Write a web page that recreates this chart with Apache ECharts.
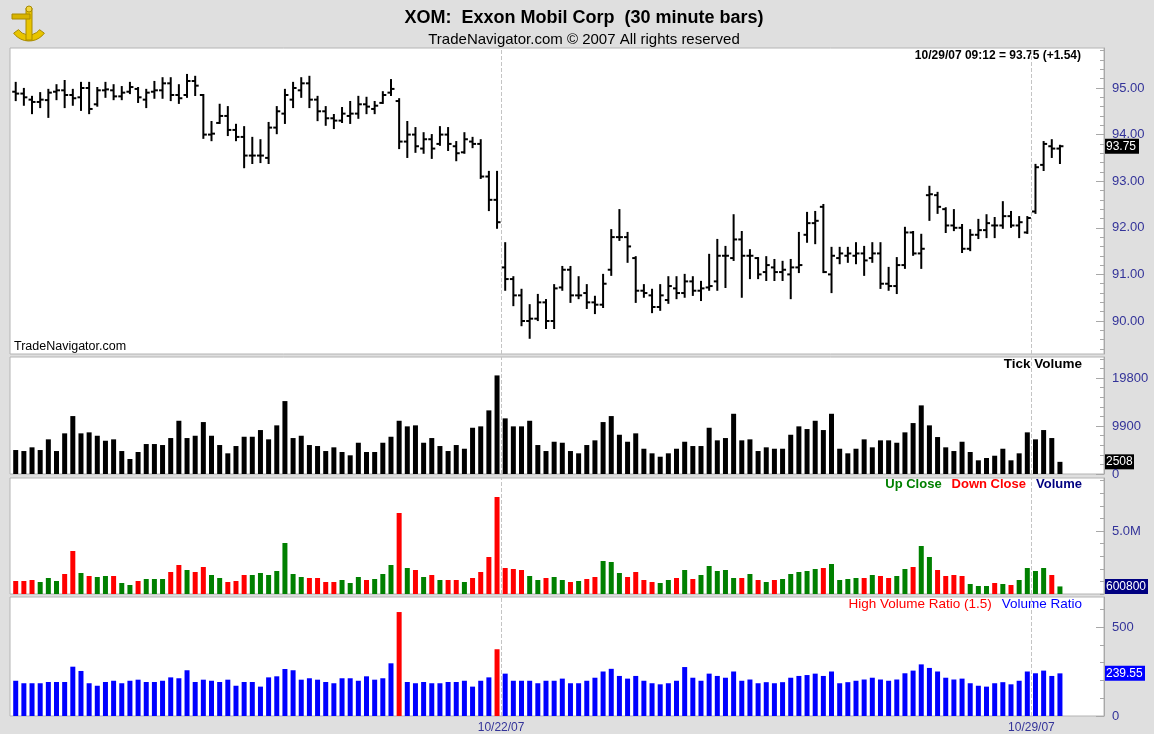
<!DOCTYPE html>
<html>
<head>
<meta charset="utf-8">
<title>XOM 30 minute bars</title>
<script src="https://cdn.jsdelivr.net/npm/echarts@6.0.0/dist/echarts.min.js"></script>
<style>
    html, body { margin: 0; padding: 0; background: #dfdfdf; }
    #chart { width: 1154px; height: 734px; }
</style>
</head>
<body>
<div id="chart"></div>
<script>
// 30 分钟 K 线 (OHLC)，按 bar 序号排列
const opens = [
    94.92, 94.88, 94.75, 94.70, 94.74, 94.92, 94.95, 94.85, 94.80, 95.00,
    94.65, 94.95, 94.95, 94.82, 94.92, 94.98, 94.75, 94.92, 94.95, 95.10,
    94.85, 94.85, 95.15, 94.85, 94.00, 94.25, 94.40, 94.10, 93.95, 93.55,
    93.55, 93.50, 94.15, 94.45, 94.75, 94.95, 95.10, 94.75, 94.50, 94.35,
    94.30, 94.40, 94.45, 94.65, 94.55, 94.68, 94.90, 94.72, 93.85, 94.00,
    93.70, 93.90, 93.80, 94.00, 93.75, 93.62, 93.85, 93.80, 93.10, 92.60,
    91.15, 90.90, 90.55, 90.00, 90.05, 90.40, 90.00, 90.72, 91.10, 90.55,
    90.60, 90.40, 90.35, 91.10, 91.80, 91.80, 91.35, 90.65, 90.55, 90.30,
    90.45, 90.70, 90.60, 90.85, 90.65, 90.72, 90.85, 91.40, 91.35, 91.75,
    91.40, 91.35, 91.05, 91.15, 91.05, 91.00, 91.15, 91.85, 92.10, 92.45,
    91.00, 91.35, 91.40, 91.40, 91.45, 91.35, 91.45, 90.80, 90.75, 91.20,
    91.90, 91.45, 92.70, 92.70, 92.40, 92.05, 92.00, 91.55, 91.85, 91.95,
    92.05, 92.05, 92.25, 92.05, 91.90, 92.35, 93.35, 93.75, 93.70
]
const highs = [
    95.11, 94.98, 94.81, 94.89, 94.96, 95.06, 95.15, 94.96, 95.11, 95.11,
    95.00, 95.11, 95.06, 95.02, 95.11, 95.00, 94.96, 95.13, 95.21, 95.21,
    95.06, 95.28, 95.24, 94.85, 94.27, 94.64, 94.59, 94.21, 94.16, 93.93,
    93.88, 94.25, 94.59, 94.96, 95.11, 95.21, 95.24, 94.81, 94.59, 94.42,
    94.57, 94.70, 94.81, 94.79, 94.70, 94.91, 95.17, 94.76, 94.27, 94.14,
    94.03, 93.99, 94.16, 94.14, 93.84, 94.03, 93.93, 93.88, 93.20, 93.20,
    91.67, 90.94, 90.67, 90.34, 90.56, 90.45, 90.77, 91.16, 91.16, 90.94,
    90.77, 90.52, 90.99, 91.95, 92.38, 91.89, 91.37, 90.77, 90.67, 90.77,
    90.94, 90.94, 90.99, 90.94, 90.84, 91.42, 91.74, 91.59, 92.27, 91.91,
    91.52, 91.35, 91.37, 91.31, 91.27, 91.31, 91.89, 92.32, 92.34, 92.49,
    91.57, 91.57, 91.57, 91.67, 91.59, 91.67, 91.67, 91.14, 91.35, 92.00,
    91.91, 91.85, 92.88, 92.75, 92.42, 92.38, 92.06, 91.95, 92.17, 92.27,
    92.21, 92.55, 92.34, 92.23, 92.23, 93.35, 93.84, 93.88, 93.76
]
const lows = [
    94.74, 94.64, 94.46, 94.59, 94.38, 94.76, 94.59, 94.64, 94.53, 94.46,
    94.62, 94.81, 94.76, 94.76, 94.89, 94.70, 94.59, 94.79, 94.79, 94.74,
    94.68, 94.81, 94.85, 93.93, 93.88, 94.25, 93.99, 93.88, 93.30, 93.39,
    93.41, 93.39, 94.03, 94.25, 94.59, 94.81, 94.59, 94.31, 94.21, 94.14,
    94.27, 94.25, 94.36, 94.46, 94.46, 94.68, 94.85, 93.71, 93.52, 93.63,
    93.61, 93.50, 93.78, 93.67, 93.45, 93.61, 93.73, 93.07, 92.38, 92.00,
    90.67, 90.34, 89.91, 89.64, 90.02, 89.85, 89.85, 90.67, 90.41, 90.49,
    90.28, 90.17, 90.30, 90.99, 91.74, 91.27, 90.41, 90.52, 90.19, 90.24,
    90.39, 90.49, 90.52, 90.56, 90.45, 90.67, 90.67, 90.73, 91.31, 90.52,
    90.92, 90.92, 90.88, 90.88, 90.88, 90.49, 91.05, 91.70, 91.67, 91.05,
    90.62, 91.24, 91.27, 91.24, 90.99, 91.27, 90.71, 90.67, 90.60, 91.14,
    91.42, 91.14, 92.17, 92.32, 91.91, 91.95, 91.48, 91.52, 91.78, 91.80,
    91.80, 92.00, 92.02, 91.80, 91.89, 92.32, 93.24, 93.52, 93.39
]
const closes = [
    94.88, 94.80, 94.70, 94.75, 94.90, 94.95, 94.85, 94.78, 95.00, 94.55,
    94.95, 94.97, 94.82, 94.90, 95.02, 94.80, 94.90, 94.95, 95.10, 94.85,
    94.78, 95.15, 95.05, 94.00, 94.02, 94.40, 94.10, 93.95, 93.55, 93.55,
    93.55, 94.15, 94.50, 94.85, 95.00, 95.10, 94.75, 94.50, 94.35, 94.30,
    94.45, 94.45, 94.65, 94.60, 94.62, 94.85, 94.98, 93.85, 94.00, 93.75,
    93.90, 93.70, 94.00, 93.80, 93.60, 93.90, 93.80, 93.10, 92.60, 92.12,
    90.90, 90.55, 90.00, 90.05, 90.40, 90.00, 90.70, 91.10, 90.55, 90.55,
    90.40, 90.35, 90.80, 91.80, 91.80, 91.60, 90.65, 90.60, 90.30, 90.55,
    90.75, 90.60, 90.85, 90.65, 90.70, 90.75, 91.40, 91.40, 91.75, 91.40,
    91.40, 91.00, 91.20, 91.05, 91.10, 91.15, 91.20, 92.10, 92.15, 91.05,
    91.40, 91.45, 91.45, 91.45, 91.30, 91.45, 90.80, 90.75, 91.20, 91.90,
    91.45, 91.55, 92.72, 92.45, 92.05, 92.00, 91.55, 91.85, 91.95, 92.10,
    92.05, 92.25, 92.05, 92.12, 92.21, 93.30, 93.80, 93.70, 93.75
]

// 成交笔数
const tickVolume = [
    4944, 4738, 5500, 4944, 7148, 4738, 8384, 11948, 8384, 8590,
    7890, 6860, 7148, 4738, 3090, 4532, 6180, 6180, 5974, 7416,
    10980, 7416, 7890, 10712, 7890, 5974, 4264, 5768, 7684, 7684,
    9064, 7148, 10032, 15038, 7416, 7890, 5974, 5768, 4738, 5500,
    4532, 3852, 6448, 4532, 4532, 6448, 7684, 10980, 9826, 10032,
    6448, 7416, 5768, 4738, 5974, 5212, 9538, 9826, 13122, 20332,
    11474, 9826, 9826, 10980, 5974, 4738, 6654, 6448, 4738, 4264,
    5974, 6942, 10712, 11948, 8096, 6654, 8384, 5212, 4264, 3564,
    4264, 5212, 6654, 5768, 5768, 9538, 6942, 7416, 12422, 6942,
    7148, 4738, 5500, 5212, 5212, 8096, 9826, 9270, 10980, 9064,
    12422, 5212, 4264, 5212, 7148, 5500, 6942, 6942, 6448, 8590,
    10506, 14152, 10032, 7622, 5500, 4738, 6654, 4532, 2822, 3296,
    3770, 5212, 2822, 4264, 8590, 7148, 9064, 7416, 2508
]

// 成交量 (股)
const volume = [
    1032000, 1032000, 1111000, 952000, 1270000, 1032000, 1587000, 3413000, 1667000, 1429000,
    1349000, 1429000, 1429000, 873000, 714000, 1032000, 1190000, 1190000, 1190000, 1746000,
    2302000, 1905000, 1746000, 2143000, 1508000, 1270000, 952000, 1032000, 1508000, 1508000,
    1667000, 1508000, 1825000, 4048000, 1587000, 1349000, 1270000, 1270000, 952000, 952000,
    1111000, 873000, 1349000, 1111000, 1190000, 1587000, 2302000, 6429000, 2063000, 1905000,
    1349000, 1508000, 1111000, 1111000, 1111000, 952000, 1270000, 1746000, 2937000, 7698000,
    2063000, 1984000, 1905000, 1429000, 1111000, 1270000, 1349000, 1111000, 952000, 1032000,
    1190000, 1349000, 2619000, 2540000, 1667000, 1349000, 1746000, 1111000, 952000, 873000,
    1111000, 1270000, 1905000, 1190000, 1508000, 2222000, 1825000, 1905000, 1270000, 1270000,
    1587000, 1111000, 952000, 1111000, 1190000, 1587000, 1746000, 1825000, 1984000, 2063000,
    2381000, 1111000, 1190000, 1270000, 1270000, 1508000, 1429000, 1270000, 1429000, 1984000,
    2143000, 3810000, 2937000, 1905000, 1429000, 1508000, 1429000, 794000, 635000, 635000,
    873000, 794000, 714000, 1111000, 2063000, 1825000, 2063000, 1508000, 600800
]

// 量比
const volumeRatio = [
    198, 184, 184, 184, 191, 191, 191, 277, 253, 184,
    170, 191, 198, 184, 198, 204, 191, 191, 198, 217,
    212, 257, 191, 204, 198, 191, 204, 170, 191, 191,
    165, 217, 223, 264, 257, 204, 212, 204, 191, 184,
    212, 212, 198, 223, 204, 212, 296, 584, 191, 184,
    191, 184, 184, 191, 191, 198, 165, 198, 217, 375,
    238, 198, 198, 198, 184, 198, 198, 210, 184, 184,
    198, 215, 250, 265, 225, 210, 225, 198, 184, 178,
    184, 198, 275, 215, 198, 238, 225, 215, 250, 198,
    205, 184, 190, 184, 190, 215, 225, 230, 238, 225,
    250, 184, 190, 198, 205, 215, 205, 198, 205, 240,
    255, 290, 270, 250, 215, 205, 210, 184, 170, 165,
    184, 190, 178, 198, 250, 240, 255, 225, 239.55
]

// 日期分隔 (两根 bar 之间)
const dayBreaks = [59.5, 124.5]
const dayLabels = ['10/22/07', '10/29/07']

const HIGH_RATIO = 350
const UP = '#008000'
const DOWN = '#ff0000'
const AXIS_TEXT = '#333399'
const FONT = 'Arial, "Liberation Sans", sans-serif'

// 四个面板: 价格 / 成交笔数 / 成交量 / 量比
const panels = [
    { top: 48, height: 306, min: 89.292, max: 95.858, major: [90, 91, 92, 93, 94, 95], step: 0.2, fmt: v => v.toFixed(2) },
    { top: 357, height: 117, min: 0, max: 24131, major: [0, 9900, 19800], step: 1980, fmt: v => String(v) },
    { top: 478, height: 116, min: 0, max: 9206000, major: [5000000], step: 1000000, fmt: v => (v / 1e6).toFixed(1) + 'M' },
    { top: 597, height: 119, min: 0, max: 668.5, major: [0, 500], step: 100, fmt: v => String(v) }
]

function minorTicks(p) {
    const out = []
    for (let v = Math.ceil(p.min / p.step) * p.step; v <= p.max; v += p.step) {
        out.push(+v.toFixed(4))
    }
    return out
}

const n = closes.length
const dayMarkLine = {
    silent: true,
    symbol: 'none',
    label: { show: false },
    lineStyle: { type: 'dashed', color: '#c4c4c4', width: 1 },
    data: dayBreaks.map(x => ({ xAxis: x }))
}

const grids = panels.map(p => ({
    left: 10, width: 1094, top: p.top, height: p.height,
    show: true, backgroundColor: '#ffffff', borderColor: '#b4b4b4', borderWidth: 1
}))

const xAxes = panels.map((p, k) => ({
    type: 'value', gridIndex: k, min: -0.7, max: 133.4,
    axisLine: { show: false, onZero: false },
    splitLine: { show: false },
    axisTick: { show: false },
    axisLabel: k === 3 ? {
        show: true, customValues: dayBreaks, margin: 6,
        formatter: v => dayLabels[dayBreaks.indexOf(v)] || '',
        color: AXIS_TEXT, fontFamily: FONT, fontSize: 12
    } : { show: false }
}))

const yAxes = []
panels.forEach((p, k) => {
    yAxes.push({
        type: 'value', gridIndex: k, position: 'right', min: p.min, max: p.max,
        axisLine: { show: true, onZero: false, lineStyle: { color: '#a8a8a8' } },
        axisTick: { show: true, inside: true, length: 8, customValues: p.major, lineStyle: { color: '#a8a8a8' } },
        axisLabel: { customValues: p.major, formatter: p.fmt, color: AXIS_TEXT, fontFamily: FONT, fontSize: 13, margin: 8 },
        splitLine: { show: false }
    })
    yAxes.push({
        type: 'value', gridIndex: k, position: 'right', min: p.min, max: p.max,
        axisLine: { show: false, onZero: false },
        axisTick: { show: true, inside: true, length: 4, customValues: minorTicks(p), lineStyle: { color: '#a8a8a8' } },
        axisLabel: { show: false },
        splitLine: { show: false }
    })
})

const ohlcData = closes.map((c, i) => [i, opens[i], highs[i], lows[i], c])

const series = [
    {
        type: 'custom', name: 'XOM', xAxisIndex: 0, yAxisIndex: 0,
        data: ohlcData,
        encode: { x: 0, y: [1, 2, 3, 4] },
        renderItem(params, api) {
            const x = api.value(0)
            const hi = api.coord([x, api.value(2)])
            const lo = api.coord([x, api.value(3)])
            const op = api.coord([x, api.value(1)])
            const cl = api.coord([x, api.value(4)])
            const style = { stroke: '#000', lineWidth: 2 }
            return {
                type: 'group',
                children: [
                    { type: 'line', shape: { x1: hi[0], y1: hi[1] - 1, x2: lo[0], y2: lo[1] + 1 }, style },
                    { type: 'line', shape: { x1: op[0] - 3.5, y1: op[1], x2: op[0], y2: op[1] }, style },
                    { type: 'line', shape: { x1: cl[0], y1: cl[1], x2: cl[0] + 3.5, y2: cl[1] }, style }
                ]
            }
        },
        markLine: dayMarkLine
    },
    {
        type: 'bar', name: 'Tick Volume', xAxisIndex: 1, yAxisIndex: 2, barWidth: 5,
        itemStyle: { color: '#000' },
        data: tickVolume.map((v, i) => [i, v]),
        markLine: dayMarkLine
    },
    {
        type: 'bar', name: 'Volume', xAxisIndex: 2, yAxisIndex: 4, barWidth: 5,
        data: volume.map((v, i) => {
            const prev = i > 0 ? closes[i - 1] : opens[0]
            return { value: [i, v], itemStyle: { color: closes[i] >= prev ? UP : DOWN } }
        }),
        markLine: dayMarkLine
    },
    {
        type: 'bar', name: 'Volume Ratio', xAxisIndex: 3, yAxisIndex: 6, barWidth: 5,
        data: volumeRatio.map((v, i) => ({ value: [i, v], itemStyle: { color: v >= HIGH_RATIO ? DOWN : '#0000ff' } })),
        markLine: dayMarkLine
    }
]

const textStyle = (s, extra) => Object.assign({ fontFamily: FONT, fill: '#000' }, s, extra)

const graphics = [
    // 标题
    { type: 'text', x: 584, y: 18, style: textStyle({ text: 'XOM:  Exxon Mobil Corp  (30 minute bars)', fontSize: 18, fontWeight: 'bold', align: 'center', verticalAlign: 'middle' }) },
    { type: 'text', x: 584, y: 40, style: textStyle({ text: 'TradeNavigator.com \u00a9 2007 All rights reserved', fontSize: 15, align: 'center', verticalAlign: 'middle' }) },
    { type: 'text', x: 1081, y: 56, style: textStyle({ text: '10/29/07 09:12 = 93.75 (+1.54)', fontSize: 12, fontWeight: 'bold', align: 'right', verticalAlign: 'middle' }) },
    { type: 'text', x: 14, y: 347, style: textStyle({ text: 'TradeNavigator.com', fontSize: 12.5, verticalAlign: 'middle' }) },
    { type: 'text', x: 1082, y: 364, style: textStyle({ text: 'Tick Volume', fontSize: 13.5, fontWeight: 'bold', align: 'right', verticalAlign: 'middle' }) },
    {
        type: 'text', x: 1082, y: 484,
        style: textStyle({
            text: '{g|Up Close}   {r|Down Close}   {b|Volume}', align: 'right', verticalAlign: 'middle',
            rich: {
                g: { fill: UP, fontSize: 13, fontWeight: 'bold', fontFamily: FONT },
                r: { fill: DOWN, fontSize: 13, fontWeight: 'bold', fontFamily: FONT },
                b: { fill: '#000080', fontSize: 13, fontWeight: 'bold', fontFamily: FONT }
            }
        })
    },
    {
        type: 'text', x: 1082, y: 604,
        style: textStyle({
            text: '{r|High Volume Ratio (1.5)}   {b|Volume Ratio}', align: 'right', verticalAlign: 'middle',
            rich: {
                r: { fill: DOWN, fontSize: 13.5, fontFamily: FONT },
                b: { fill: '#0000ff', fontSize: 13.5, fontFamily: FONT }
            }
        })
    },
    // 左上角的六分仪图标 (简化)
    {
        type: 'group', x: 0, y: 0,
        children: [
            { type: 'sector', shape: { cx: 29, cy: 22, r: 19, r0: 13, startAngle: Math.PI * 0.2, endAngle: Math.PI * 0.8 }, style: { fill: '#e8c400', stroke: '#a88a00', lineWidth: 1 } },
            { type: 'rect', shape: { x: 26, y: 8, width: 6, height: 32 }, style: { fill: '#e8c400', stroke: '#a88a00', lineWidth: 1 } },
            { type: 'rect', shape: { x: 12, y: 14, width: 18, height: 5 }, style: { fill: '#d8b400', stroke: '#a88a00', lineWidth: 1 } },
            { type: 'circle', shape: { cx: 29, cy: 9, r: 3 }, style: { fill: '#f2d640', stroke: '#a88a00', lineWidth: 1 } }
        ]
    }
]

const chart = echarts.init(document.getElementById('chart'), null, { renderer: 'canvas' })
chart.setOption({
    backgroundColor: '#dfdfdf',
    animation: false,
    grid: grids,
    xAxis: xAxes,
    yAxis: yAxes,
    series: series,
    graphic: graphics
})

// 最新值标签，位置由坐标轴换算
const lastTags = [
    { grid: 0, value: closes[n - 1], text: closes[n - 1].toFixed(2), bg: '#000', w: 34 },
    { grid: 1, value: tickVolume[n - 1], text: String(tickVolume[n - 1]), bg: '#000', w: 29 },
    { grid: 2, value: volume[n - 1], text: String(volume[n - 1]), bg: '#000080', w: 43 },
    { grid: 3, value: volumeRatio[n - 1], text: volumeRatio[n - 1].toFixed(2), bg: '#0000ff', w: 40 }
]
const tagGraphics = lastTags.map(t => {
    let y = chart.convertToPixel({ gridIndex: t.grid }, [n - 1, t.value])[1]
    const p = panels[t.grid]
    y = Math.min(y, p.top + p.height - 7)
    return {
        type: 'group', x: 1105, y: y - 7.5,
        children: [
            { type: 'rect', shape: { x: 0, y: 0, width: t.w, height: 15 }, style: { fill: t.bg } },
            { type: 'text', x: 1, y: 7.5, style: { text: t.text, fill: '#fff', fontSize: 12, fontFamily: FONT, verticalAlign: 'middle' } }
        ]
    }
})
chart.setOption({ graphic: graphics.concat(tagGraphics) })
</script>
</body>
</html>
